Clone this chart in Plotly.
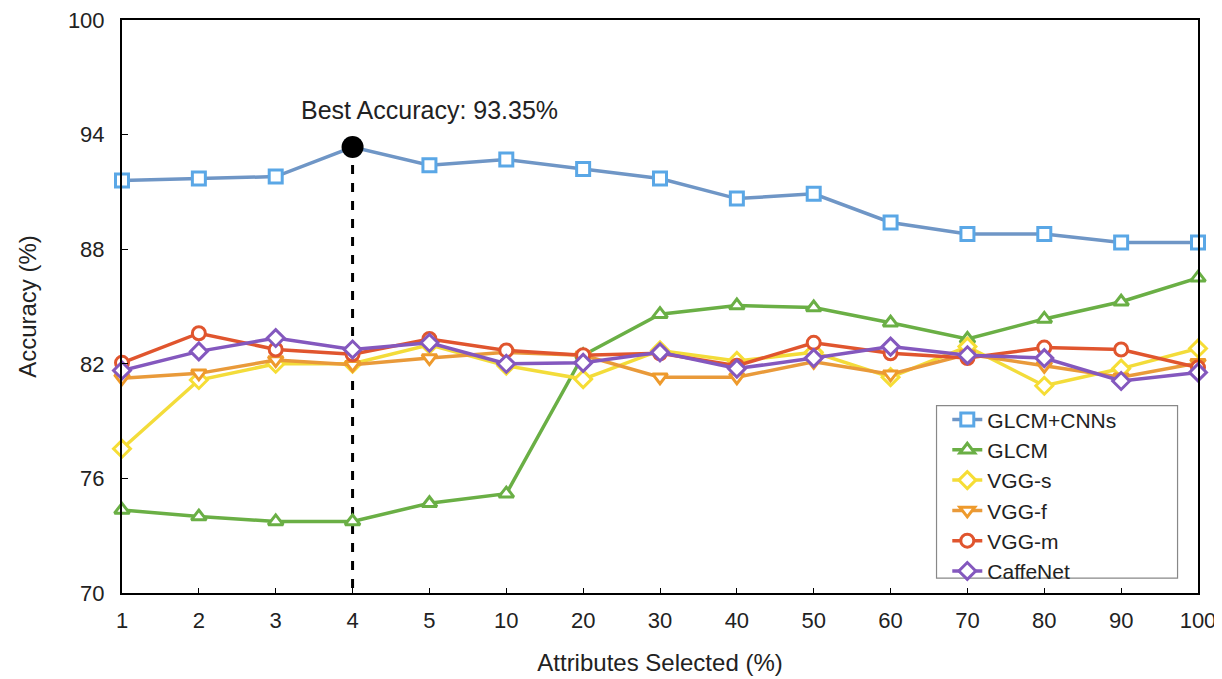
import plotly.graph_objects as go

categories = ["1", "2", "3", "4", "5", "10", "20", "30", "40", "50", "60", "70", "80", "90", "100"]

glcm_cnns = [91.6, 91.7, 91.8, 93.35, 92.4, 92.7, 92.2, 91.7, 90.65, 90.9, 89.4, 88.8, 88.8, 88.35, 88.35]
glcm = [74.35, 74.0, 73.75, 73.75, 74.7, 75.2, 82.45, 84.6, 85.05, 84.95, 84.15, 83.3, 84.35, 85.25, 86.5]
vgg_s = [77.55, 81.15, 82.0, 82.0, 83.0, 81.9, 81.2, 82.7, 82.15, 82.6, 81.3, 82.9, 80.85, 81.75, 82.8]
vgg_f = [81.25, 81.5, 82.2, 81.95, 82.3, 82.6, 82.45, 81.3, 81.3, 82.1, 81.45, 82.5, 81.9, 81.3, 82.05]
vgg_m = [82.05, 83.6, 82.75, 82.5, 83.3, 82.7, 82.45, 82.55, 81.9, 83.1, 82.55, 82.3, 82.85, 82.75, 81.8]
caffenet = [81.65, 82.65, 83.35, 82.75, 83.1, 82.0, 82.05, 82.6, 81.75, 82.3, 82.9, 82.45, 82.3, 81.1, 81.55]

best_label = "Best Accuracy: 93.35%"
best_cat = "4"
best_val = 93.35

y_ticks = [70, 76, 82, 88, 94, 100]

series = [
    ("GLCM+CNNs", glcm_cnns, "#6F96C6", "#5AA7E6", "square"),
    ("GLCM", glcm, "#6AAF45", "#6AAF45", "triangle-up"),
    ("VGG-s", vgg_s, "#F3DC3A", "#F6DD35", "diamond"),
    ("VGG-f", vgg_f, "#E99A3A", "#EE9A2C", "triangle-down"),
    ("VGG-m", vgg_m, "#E0552E", "#E0552E", "circle"),
    ("CaffeNet", caffenet, "#8458BE", "#8458BE", "diamond"),
]

fig = go.Figure()

# dashed vertical line from best point down to axis
fig.add_trace(go.Scatter(
    x=[best_cat, best_cat], y=[best_val, y_ticks[0]], mode="lines",
    line=dict(color="black", width=3, dash="dash"), showlegend=False, hoverinfo="skip"))

for name, vals, lc, mc, sym in series:
    fig.add_trace(go.Scatter(
        x=categories, y=vals, mode="lines+markers", name=name,
        line=dict(color=lc, width=3.5),
        marker=dict(symbol=sym, size=13, color="white", line=dict(color=mc, width=3)),
        cliponaxis=False))

fig.add_trace(go.Scatter(
    x=[best_cat], y=[best_val], mode="markers",
    marker=dict(symbol="circle", size=22, color="black"),
    showlegend=False, cliponaxis=False))

fig.add_annotation(x=best_cat, y=95.3, text=best_label, showarrow=False,
                   font=dict(size=25, color="#222222"), xanchor="center", yanchor="middle")

# legend frame
fig.add_shape(type="rect", xref="paper", yref="paper",
              x0=0.757, x1=0.981, y0=0.026, y1=0.327,
              line=dict(color="#888888", width=1.2), fillcolor="white", layer="above")

fig.update_layout(
    width=1222, height=679,
    margin=dict(l=114, r=32, t=12, b=94, autoexpand=False),
    paper_bgcolor="white", plot_bgcolor="white",
    font=dict(family="Liberation Sans, Arial, sans-serif", size=22, color="#222222"),
    legend=dict(x=0.767, y=0.338, xanchor="left", yanchor="top",
                borderwidth=0, bgcolor="rgba(0,0,0,0)",
                font=dict(size=21, color="#222222"), tracegroupgap=0,
                itemwidth=30),
    showlegend=True,
)

fig.update_xaxes(
    type="category", categoryorder="array", categoryarray=categories,
    range=[0, len(categories) - 1], automargin=False,
    showline=True, linecolor="black", linewidth=2, mirror=True,
    showgrid=False, zeroline=False, ticks="inside", ticklen=5, tickcolor="black",
    tickfont=dict(size=22), ticklabelstandoff=7, ticklabeloverflow="allow",
    title=dict(text="Attributes Selected (%)", font=dict(size=24), standoff=22),
)
fig.update_yaxes(
    range=[70, 100], tickvals=y_ticks, automargin=False,
    showline=True, linecolor="black", linewidth=2, mirror=True,
    showgrid=False, zeroline=False, ticks="inside", ticklen=6, tickcolor="black",
    tickfont=dict(size=22), ticklabelstandoff=11, ticklabeloverflow="allow",
    title=dict(text="Accuracy (%)", font=dict(size=24), standoff=24),
)

fig.write_html("out.html")
